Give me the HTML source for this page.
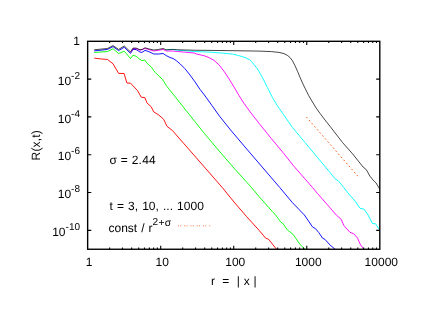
<!DOCTYPE html><html><head><meta charset="utf-8"><style>html,body{margin:0;padding:0;background:#fff;overflow:hidden;}svg{display:block;will-change:transform;}text{text-rendering:geometricPrecision;font-family:"Liberation Sans",sans-serif;fill:#000;}</style></head><body>
<svg width="440" height="311" viewBox="0 0 440 311">
<rect width="440" height="311" fill="#fff"/>
<clipPath id="c"><rect x="87.65" y="41.3" width="292.15" height="207.95"/></clipPath>
<g fill="none" stroke-width="0.92" stroke-linejoin="round" clip-path="url(#c)">
<polyline stroke="#ff0000" points="94.25,58.10 101.75,59.00 107.40,59.40 113.00,63.75 118.60,73.40 124.10,73.50 126.90,83.00 130.60,83.20 137.50,90.60 141.25,97.20 145.00,97.75 146.90,102.80 151.25,106.90 153.75,111.90 158.75,115.00 163.75,119.40 166.90,126.25 172.50,130.60 178.90,138.00 184.00,143.75 222.25,187.50 234.00,202.00 246.50,216.50 259.00,230.25 265.60,238.10 268.50,239.20 276.80,249.60"/>
<polyline stroke="#00ff00" points="94.25,52.50 107.40,51.50 113.00,48.75 118.60,53.50 124.25,51.25 130.50,58.50 133.00,55.25 136.10,56.25 140.00,59.40 141.90,60.60 144.75,60.00 147.50,63.75 151.25,66.90 153.75,70.60 155.20,72.50 162.50,79.40 166.25,85.40 169.60,89.80 174.00,95.30 189.00,114.20 204.75,133.90 220.00,152.00 235.20,169.50 251.50,187.50 259.00,196.50 272.30,211.50 275.60,215.00 280.60,221.90 283.10,223.75 287.50,230.00 293.10,234.40 300.00,244.40 305.50,249.60"/>
<polyline stroke="#0000ff" points="94.25,50.90 107.40,49.45 113.00,46.60 118.60,50.60 124.25,47.25 130.50,53.40 133.00,49.50 136.10,49.50 140.00,52.10 141.90,52.40 145.00,50.40 148.10,51.35 153.75,54.00 158.75,54.00 163.10,53.50 166.25,55.60 170.00,57.50 173.10,58.50 176.25,60.60 180.00,63.75 185.00,68.75 190.00,75.00 195.00,81.90 200.00,89.40 204.40,95.00 212.00,105.60 219.60,116.25 230.60,130.00 245.00,147.00 259.60,164.00 279.75,187.50 292.50,202.75 304.40,215.00 312.50,226.90 315.60,228.75 318.75,232.50 322.50,238.10 325.00,239.40 330.00,245.00 335.60,249.60"/>
<polyline stroke="#ff00ff" points="130.50,52.30 133.00,48.60 136.10,48.60 140.00,50.30 145.00,48.40 153.75,51.00 158.75,50.25 163.10,49.40 166.25,51.00 172.50,51.00 177.50,51.50 183.75,52.00 194.60,53.10 196.50,54.00 204.00,55.70 209.00,57.60 214.00,60.40 219.00,64.80 224.00,71.30 229.00,78.80 234.00,87.00 239.00,95.50 244.00,103.40 250.25,112.00 259.00,123.30 271.50,138.80 284.00,153.75 293.25,165.50 312.50,187.50 317.50,193.50 330.00,207.75 336.25,215.00 341.25,219.40 343.90,225.60 350.00,232.30 353.75,233.75 357.50,238.10 360.60,245.00 364.20,249.60"/>
<polyline stroke="#00ffff" points="166.25,49.75 172.50,49.50 177.50,50.20 194.60,51.50 209.00,52.10 221.50,53.00 232.50,54.10 238.75,55.60 245.00,57.50 249.60,59.75 251.50,61.50 257.20,68.50 262.30,77.25 267.30,87.25 272.30,97.25 277.20,105.50 282.75,113.50 292.50,127.50 305.00,142.50 317.50,157.50 330.00,172.50 335.00,178.75 338.75,181.25 343.75,187.50 348.75,194.00 355.00,201.00 360.00,208.25 363.75,209.00 367.50,214.00 372.50,223.50 375.60,223.75 378.75,228.75 380.00,230.60"/>
<polyline stroke="#000000" stroke-width="0.72" points="94.25,49.75 107.40,48.50 113.00,45.60 118.60,49.40 124.25,46.00 130.50,51.90 133.00,48.10 136.10,48.10 140.00,49.75 142.50,49.40 145.00,47.75 148.10,48.75 153.75,50.00 158.75,49.40 163.10,48.50 166.25,49.75 172.50,49.40 177.50,49.75 194.60,50.25 209.00,50.40 234.00,50.70 259.00,51.10 271.50,51.60 279.00,52.40 284.00,53.60 287.75,55.60 290.25,57.80 292.50,60.80 295.00,65.60 297.50,71.30 300.00,77.30 302.50,83.00 305.00,88.20 308.75,95.70 312.50,102.00 316.25,108.20 320.00,113.40 325.00,120.00 330.00,126.25 342.50,142.50 352.50,153.75 357.50,160.00 363.10,167.00 366.25,169.60 370.00,176.25 373.00,180.00 376.10,183.00 380.00,189.60"/>
<line x1="306.36" y1="117.00" x2="357.81" y2="176.17" stroke="#ff4d00" stroke-dasharray="1.7 2.35" stroke-width="0.9"/>
<line x1="178" y1="225.8" x2="210.6" y2="225.8" stroke="#ff4d00" stroke-dasharray="1 1.2 1 3.05" stroke-width="0.75"/>
</g>
<rect x="87.65" y="41.3" width="292.15" height="207.95" fill="none" stroke="#000" stroke-width="1.38"/>
<path d="M109.64,249.25v-1.8M109.64,41.3v1.8M122.50,249.25v-1.8M122.50,41.3v1.8M131.62,249.25v-1.8M131.62,41.3v1.8M138.70,249.25v-1.8M138.70,41.3v1.8M144.48,249.25v-1.8M144.48,41.3v1.8M149.37,249.25v-1.8M149.37,41.3v1.8M153.61,249.25v-1.8M153.61,41.3v1.8M157.35,249.25v-1.8M157.35,41.3v1.8M160.69,249.25v-3.6M160.69,41.3v3.6M182.67,249.25v-1.8M182.67,41.3v1.8M195.54,249.25v-1.8M195.54,41.3v1.8M204.66,249.25v-1.8M204.66,41.3v1.8M211.74,249.25v-1.8M211.74,41.3v1.8M217.52,249.25v-1.8M217.52,41.3v1.8M222.41,249.25v-1.8M222.41,41.3v1.8M226.65,249.25v-1.8M226.65,41.3v1.8M230.38,249.25v-1.8M230.38,41.3v1.8M233.72,249.25v-3.6M233.72,41.3v3.6M255.71,249.25v-1.8M255.71,41.3v1.8M268.57,249.25v-1.8M268.57,41.3v1.8M277.70,249.25v-1.8M277.70,41.3v1.8M284.78,249.25v-1.8M284.78,41.3v1.8M290.56,249.25v-1.8M290.56,41.3v1.8M295.45,249.25v-1.8M295.45,41.3v1.8M299.68,249.25v-1.8M299.68,41.3v1.8M303.42,249.25v-1.8M303.42,41.3v1.8M306.76,249.25v-3.6M306.76,41.3v3.6M328.75,249.25v-1.8M328.75,41.3v1.8M341.61,249.25v-1.8M341.61,41.3v1.8M350.74,249.25v-1.8M350.74,41.3v1.8M357.81,249.25v-1.8M357.81,41.3v1.8M363.60,249.25v-1.8M363.60,41.3v1.8M368.49,249.25v-1.8M368.49,41.3v1.8M372.72,249.25v-1.8M372.72,41.3v1.8M376.46,249.25v-1.8M376.46,41.3v1.8M87.65,79.11h3.6M379.8,79.11h-3.6M87.65,116.92h3.6M379.8,116.92h-3.6M87.65,154.73h3.6M379.8,154.73h-3.6M87.65,192.54h3.6M379.8,192.54h-3.6M87.65,230.35h3.6M379.8,230.35h-3.6" stroke="#000" stroke-width="1.1" fill="none"/>
<text x="80" y="45.3" font-size="12" text-anchor="end">1</text>
<text x="80" y="84.71" font-size="12" text-anchor="end">10<tspan font-size="10" dy="-6">-2</tspan></text>
<text x="80" y="122.52" font-size="12" text-anchor="end">10<tspan font-size="10" dy="-6">-4</tspan></text>
<text x="80" y="160.33" font-size="12" text-anchor="end">10<tspan font-size="10" dy="-6">-6</tspan></text>
<text x="80" y="198.14" font-size="12" text-anchor="end">10<tspan font-size="10" dy="-6">-8</tspan></text>
<text x="80" y="235.95" font-size="12" text-anchor="end">10<tspan font-size="10" dy="-6">-10</tspan></text>
<text x="89.15" y="266" font-size="12" text-anchor="middle">1</text>
<text x="162.19" y="266" font-size="12" text-anchor="middle">10</text>
<text x="235.22" y="266" font-size="12" text-anchor="middle">100</text>
<text x="308.26" y="266" font-size="12" text-anchor="middle">1000</text>
<text x="381.30" y="266" font-size="12" text-anchor="middle">10000</text>
<text x="211" y="284.8" font-size="12" xml:space="preserve" word-spacing="0.25">r  =</text>
<text x="236.8" y="284.8" font-size="12" xml:space="preserve" word-spacing="0.4">| x |</text>
<text transform="translate(39.9,145.3) rotate(-90)" font-size="12" text-anchor="middle" letter-spacing="0.15">R(x,t)</text>
<text x="109.6" y="164.3" font-size="12" letter-spacing="0.25">σ = 2.44</text>
<text x="109.6" y="209.9" font-size="12" word-spacing="0.66" letter-spacing="0.03">t = 3, 10, ... 1000</text>
<text x="108.5" y="231.6" font-size="12" word-spacing="0.7">const / r<tspan font-size="10" dy="-6.9" dx="-0.1">2</tspan><tspan font-size="10.4" dy="0.95" dx="0.4">+</tspan><tspan font-size="10.3" dy="0.2" dx="0.2">σ</tspan></text>
</svg></body></html>
